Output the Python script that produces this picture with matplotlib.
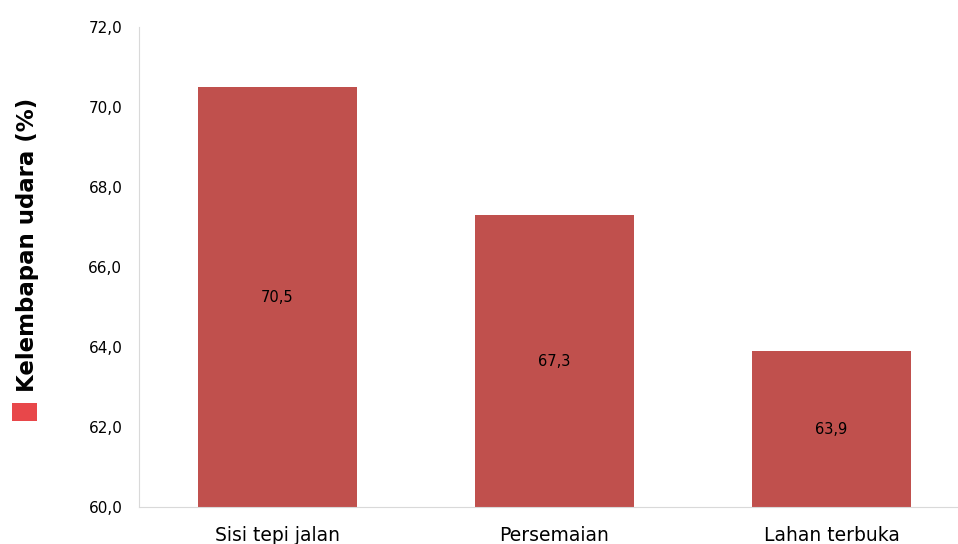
import matplotlib
matplotlib.use("Agg")
import matplotlib.pyplot as plt
from matplotlib.patches import Rectangle

categories = ["Sisi tepi jalan", "Persemaian", "Lahan terbuka"]
values = [70.5, 67.3, 63.9]
yticks = [60, 62, 64, 66, 68, 70, 72]
ylabel = "Kelembapan udara (%)"

fig = plt.figure(figsize=(9.58, 5.44), dpi=100)
ax = fig.add_axes([139/958, 1-507/544, (970-139)/958, (507-27)/544])
x = list(range(len(categories)))
ax.bar(x, [v - 60 for v in values], bottom=60, width=0.574, color="#C0504D")
for xi, v in zip(x, values):
    ax.text(xi, (60 + v) / 2, f"{v:.1f}".replace(".", ","), ha="center", va="center",
            fontsize=10.5, color="black")
ax.set_xlim(-0.5, 2.5)
ax.set_ylim(60, 72)
ax.set_yticks(yticks)
ax.set_yticklabels([f"{t:.1f}".replace(".", ",") for t in yticks], fontsize=11)
ax.set_xticks(x)
ax.set_xticklabels(categories, fontsize=13.5)
ax.tick_params(axis="y", length=0, pad=12)
ax.tick_params(axis="x", length=0, pad=14)
for s in ["top", "right"]:
    ax.spines[s].set_visible(False)
ax.spines["left"].set_color("#D9D9D9")
ax.spines["bottom"].set_color("#D9D9D9")
fig.text(28/958, 1-245/544, ylabel, rotation=90, ha="center", va="center",
         fontsize=16.5, fontweight="bold")
fig.patches.append(Rectangle((12/958, 1-421/544), 25/958, 18/544, transform=fig.transFigure,
                             facecolor="#E8474A", edgecolor="none"))
fig.savefig("out.png", dpi=100)
